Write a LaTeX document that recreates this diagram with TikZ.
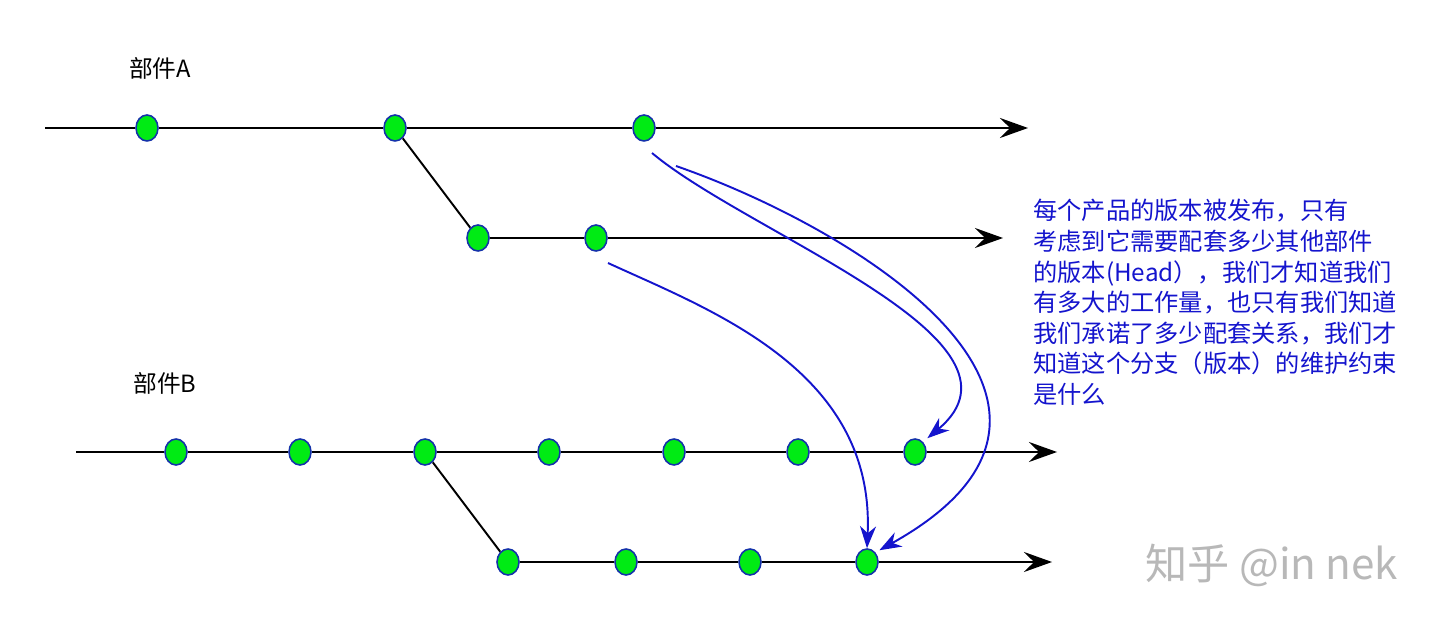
\documentclass[tikz,border=0pt]{standalone}
\usepackage{fontspec}
\setmainfont{Noto Sans CJK SC}
\usetikzlibrary{shapes.geometric,arrows.meta}
\definecolor{ptgreen}{RGB}{0,235,20}
\definecolor{ptedge}{RGB}{20,50,170}
\definecolor{noteblue}{RGB}{20,20,205}
\begin{document}
\begin{tikzpicture}[x=0.02cm,y=-0.02cm]
    \tikzstyle{commit}=[ellipse,draw=ptedge,line width=0.9pt,fill=ptgreen,minimum width=0.44cm,minimum height=0.52cm,inner sep=0pt]
    \tikzstyle{line}=[line width=1.1pt,black]
    \tikzstyle{head}=[-{Stealth[length=0.56cm,width=0.4cm,inset=0.2cm]}]
    \tikzstyle{note}=[noteblue,line width=1.1pt,-{Stealth[length=0.44cm,width=0.32cm,inset=0.14cm]}]
    \useasboundingbox (0,0) rectangle (1440,621);
    % component A
    \node (labA) at (160,68) {\fontsize{13.5pt}{16pt}\selectfont 部件A};
    \coordinate (a0) at (45,128);
    \coordinate (aend) at (1028,128);
    \node[commit] (a1) at (147,128) {};
    \node[commit] (a2) at (395,128) {};
    \node[commit] (a3) at (644,128) {};
    \coordinate (cend) at (1003,238);
    \node[commit] (c1) at (478,238) {};
    \node[commit] (c2) at (596,238) {};
    \draw[line] (a0) -- (a1) -- (a2) -- (a3);
    \draw[line,head] (a3) -- (aend);
    \draw[line] (a2) -- (c1) -- (c2);
    \draw[line,head] (c2) -- (cend);
    % component B
    \node (labB) at (165,383) {\fontsize{13.5pt}{16pt}\selectfont 部件B};
    \coordinate (b0) at (76,452);
    \coordinate (bend) at (1057,452);
    \node[commit] (b1) at (176,452) {};
    \node[commit] (b2) at (300,452) {};
    \node[commit] (b3) at (425,452) {};
    \node[commit] (b4) at (549,452) {};
    \node[commit] (b5) at (674,452) {};
    \node[commit] (b6) at (798,452) {};
    \node[commit] (b7) at (915,452) {};
    \coordinate (dend) at (1052,562);
    \node[commit] (d1) at (508,562) {};
    \node[commit] (d2) at (626,562) {};
    \node[commit] (d3) at (750,562) {};
    \node[commit] (d4) at (867,562) {};
    \draw[line] (b0) -- (b1) -- (b2) -- (b3) -- (b4) -- (b5) -- (b6) -- (b7);
    \draw[line,head] (b7) -- (bend);
    \draw[line] (b3) -- (d1) -- (d2) -- (d3) -- (d4);
    \draw[line,head] (d4) -- (dend);
    % dependencies
    \coordinate (s1) at (652,153);
    \coordinate (s2) at (676,166);
    \coordinate (s3) at (608,263);
    \draw[note] (s1) .. controls (750,235) and (1045,340) .. ([shift={(4,-4)}]b7.north east);
    \draw[note] (s2) .. controls (860,230) and (1140,405) .. ([shift={(4,-2)}]d4.north east);
    \draw[note] (s3) .. controls (710,310) and (875,370) .. (d4.north);
    \node[noteblue,anchor=north west,align=left,inner sep=0pt,font=\fontsize{13.8pt}{17.4pt}\selectfont] (txt) at (1033,199) {每个产品的版本被发布，只有\\考虑到它需要配套多少其他部件\\的版本(Head），我们才知道我们\\有多大的工作量，也只有我们知道\\我们承诺了多少配套关系，我们才\\知道这个分支（版本）的维护约束\\是什么};
    \node[black!28,anchor=west,inner sep=0pt,font=\fontsize{24pt}{28pt}\selectfont] (mark) at (1145,565) {知乎 @in nek};
\end{tikzpicture}
\end{document}
